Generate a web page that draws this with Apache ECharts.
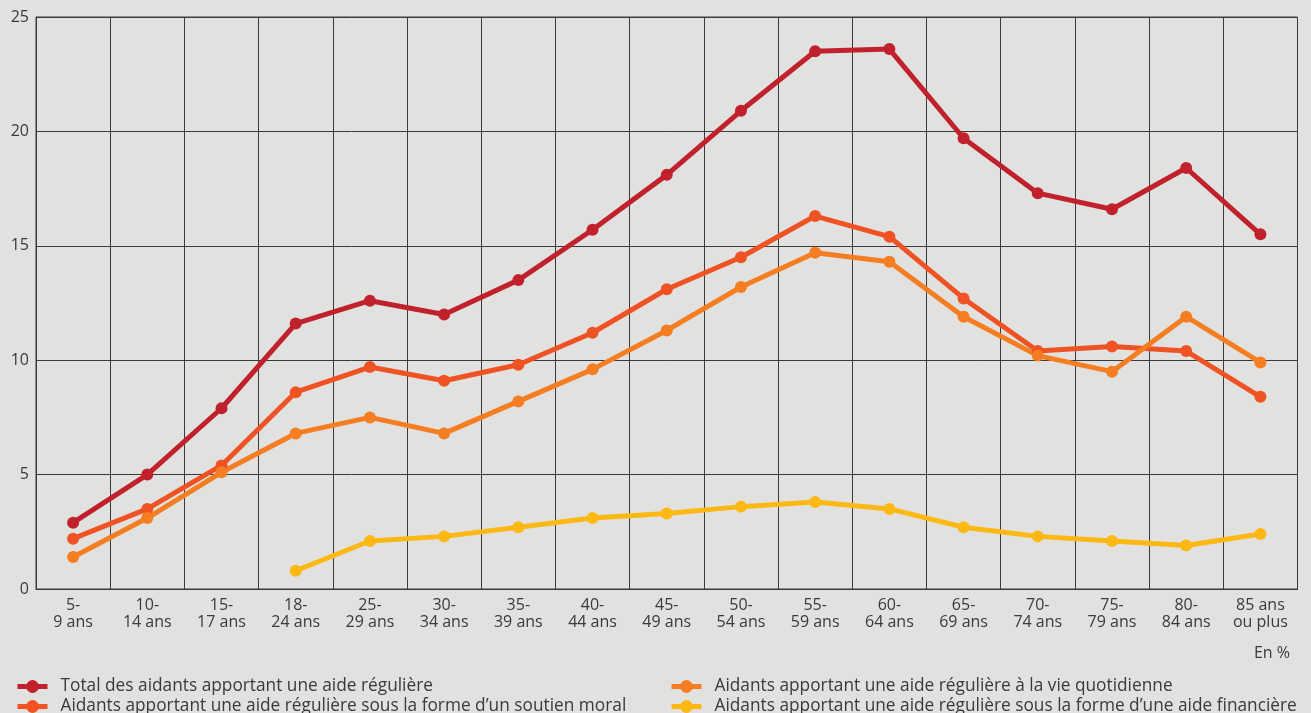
<!DOCTYPE html>
<html>
<head>
<meta charset="utf-8">
<script src="https://cdn.jsdelivr.net/npm/echarts@6/dist/echarts.min.js"></script>
<style>
html,body{margin:0;padding:0;background:#e1e1e0;}
#chart{width:1311px;height:713px;}
</style>
</head>
<body>
<div id="chart"></div>
<script>
const categories = ["5-\n9 ans","10-\n14 ans","15-\n17 ans","18-\n24 ans","25-\n29 ans","30-\n34 ans","35-\n39 ans","40-\n44 ans","45-\n49 ans","50-\n54 ans","55-\n59 ans","60-\n64 ans","65-\n69 ans","70-\n74 ans","75-\n79 ans","80-\n84 ans","85 ans\nou plus"];
const seriesNames = [
  "Total des aidants apportant une aide régulière",
  "Aidants apportant une aide régulière sous la forme d\u2019un soutien moral",
  "Aidants apportant une aide régulière à la vie quotidienne",
  "Aidants apportant une aide régulière sous la forme d\u2019une aide financière"
];
const total = [2.9,5.0,7.9,11.6,12.6,12.0,13.5,15.7,18.1,20.9,23.5,23.6,19.7,17.3,16.6,18.4,15.5];
const moral = [2.2,3.5,5.4,8.6,9.7,9.1,9.8,11.2,13.1,14.5,16.3,15.4,12.7,10.4,10.6,10.4,8.4];
const quotidienne = [1.4,3.1,5.1,6.8,7.5,6.8,8.2,9.6,11.3,13.2,14.7,14.3,11.9,10.2,9.5,11.9,9.9];
const financiere = [null,null,null,0.8,2.1,2.3,2.7,3.1,3.3,3.6,3.8,3.5,2.7,2.3,2.1,1.9,2.4];
const yTicks = [0,5,10,15,20,25];
const colors = ["#c0212c","#f05323","#f57d22","#fdb813"];

const font = "'Open Sans', Lato, sans-serif";
const txt = '#3a3a3a';
const chart = echarts.init(document.getElementById('chart'), null, {renderer:'canvas'});
function mk(name, data, color){
  return {
    name, type:'line', data, color,
    symbol:'circle', symbolSize:12, showSymbol:true,
    lineStyle:{width:5, color},
    itemStyle:{color},
    emphasis:{disabled:true},
    animation:false, z:3
  };
}
function lg(name, left, top){
  return {data:[name], left, top, itemWidth:30, itemHeight:16, itemGap:0, selectedMode:false,
    lineStyle:{width:5},
    textStyle:{fontFamily:font, fontSize:17.3, color:txt, padding:[0,0,0,8]}};
}
chart.setOption({
  backgroundColor:'#e1e1e0',
  animation:false,
  grid:{left:36, right:13.5, top:17, bottom:124, show:true, borderColor:'#3a3a3a', borderWidth:1},
  xAxis:{
    type:'category', data:categories, boundaryGap:true,
    axisLine:{show:true, lineStyle:{color:'#3a3a3a', width:1}},
    axisTick:{show:false},
    splitLine:{show:true, interval:0, lineStyle:{color:'#3a3a3a', width:1}},
    axisLabel:{interval:0, color:txt, fontFamily:font, fontSize:16, lineHeight:17, margin:8}
  },
  yAxis:{
    type:'value', min:yTicks[0], max:yTicks[yTicks.length-1], interval:5,
    axisLine:{show:true, lineStyle:{color:'#3a3a3a', width:1}},
    axisTick:{show:false},
    splitLine:{show:true, lineStyle:{color:'#3a3a3a', width:1}},
    axisLabel:{color:txt, fontFamily:font, fontSize:16, margin:7}
  },
  legend:[
    lg(seriesNames[0], 10, 673),
    lg(seriesNames[1], 10, 693),
    lg(seriesNames[2], 664, 673),
    lg(seriesNames[3], 664, 693)
  ],
  graphic:[{type:'text', right:21, top:645, style:{text:'En %', font:'16px '+font, fill:txt}}],
  series:[
    mk(seriesNames[0], total, colors[0]),
    mk(seriesNames[1], moral, colors[1]),
    mk(seriesNames[2], quotidienne, colors[2]),
    mk(seriesNames[3], financiere, colors[3])
  ]
});
</script>
</body>
</html>
